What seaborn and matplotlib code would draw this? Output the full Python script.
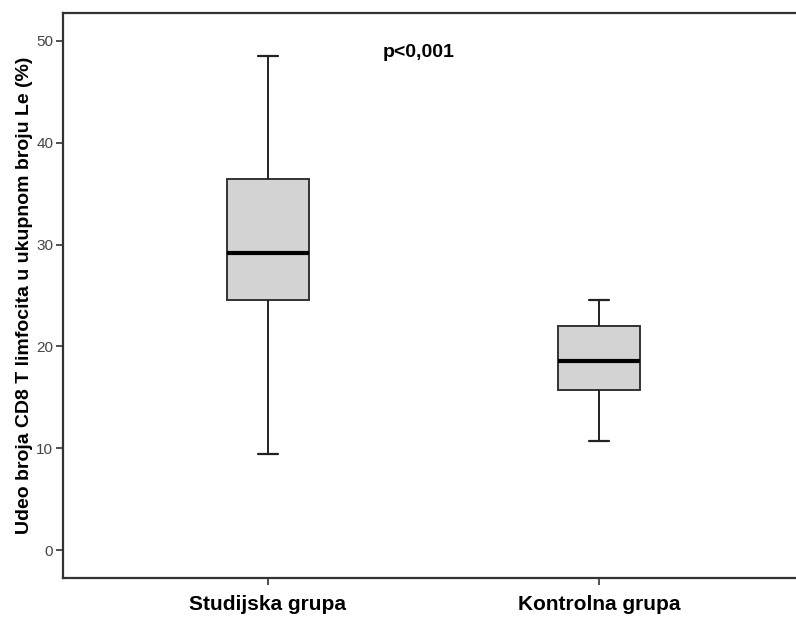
import matplotlib
matplotlib.use("Agg")
import matplotlib.pyplot as plt
import seaborn as sns
import pandas as pd

# Five-number summaries (min, Q1, median, Q3, max)
groups = ["Studijska grupa", "Kontrolna grupa"]
studijska = [9.4, 24.6, 29.2, 36.4, 48.5]
kontrolna = [10.7, 15.7, 18.6, 22.0, 24.6]
yticks = [0, 10, 20, 30, 40, 50]
ylabel = "Udeo broja CD8 T limfocita u ukupnom broju Le (%)"
annotation = "p<0,001"

df = pd.DataFrame({
    "grupa": [groups[0]] * len(studijska) + [groups[1]] * len(kontrolna),
    "vrednost": studijska + kontrolna,
})

sns.set_style("white")
plt.rcParams["font.family"] = ["Liberation Sans", "DejaVu Sans"]

fig = plt.figure(figsize=(7.96, 6.2), dpi=100)
ax = fig.add_axes([63 / 796, 1 - 578 / 620, 1 - 63 / 796, (578 - 13) / 620])

sns.boxplot(
    data=df, x="grupa", y="vrednost", order=groups, ax=ax,
    width=0.25, whis=1.5, color="#d3d3d3", saturation=1,
    linecolor="#333333", linewidth=1.4,
    medianprops=dict(color="black", linewidth=3),
    whiskerprops=dict(color="#222222", linewidth=1.4),
    capprops=dict(color="#222222", linewidth=1.6),
    capwidths=0.06,
)

ax.set_xlim(-0.619, 1.595)
ax.set_ylim(-2.75, 52.75)
ax.set_yticks(yticks)
ax.set_yticklabels([str(t) for t in yticks], fontsize=11, color="#444444")
for lab in ax.get_xticklabels():
    lab.set_fontsize(15)
    lab.set_fontweight("bold")
    lab.set_color("black")
ax.set_xlabel("")
ax.set_ylabel(ylabel, fontsize=14, fontweight="bold", color="black")
ax.yaxis.set_label_coords(-0.041, 0.5)

ax.tick_params(axis="both", direction="out", length=5, width=1.2, color="#333333",
               left=True, bottom=True)
ax.tick_params(axis="x", pad=7)
ax.tick_params(axis="y", pad=2)

for side in ["left", "bottom", "top"]:
    ax.spines[side].set_visible(True)
    ax.spines[side].set_color("#333333")
    ax.spines[side].set_linewidth(1.6)
ax.spines["right"].set_visible(False)

ax.text(0.455, 48.9, annotation, fontsize=14, fontweight="bold", ha="center", va="center",
        color="black")

fig.savefig("out.png", dpi=100)
